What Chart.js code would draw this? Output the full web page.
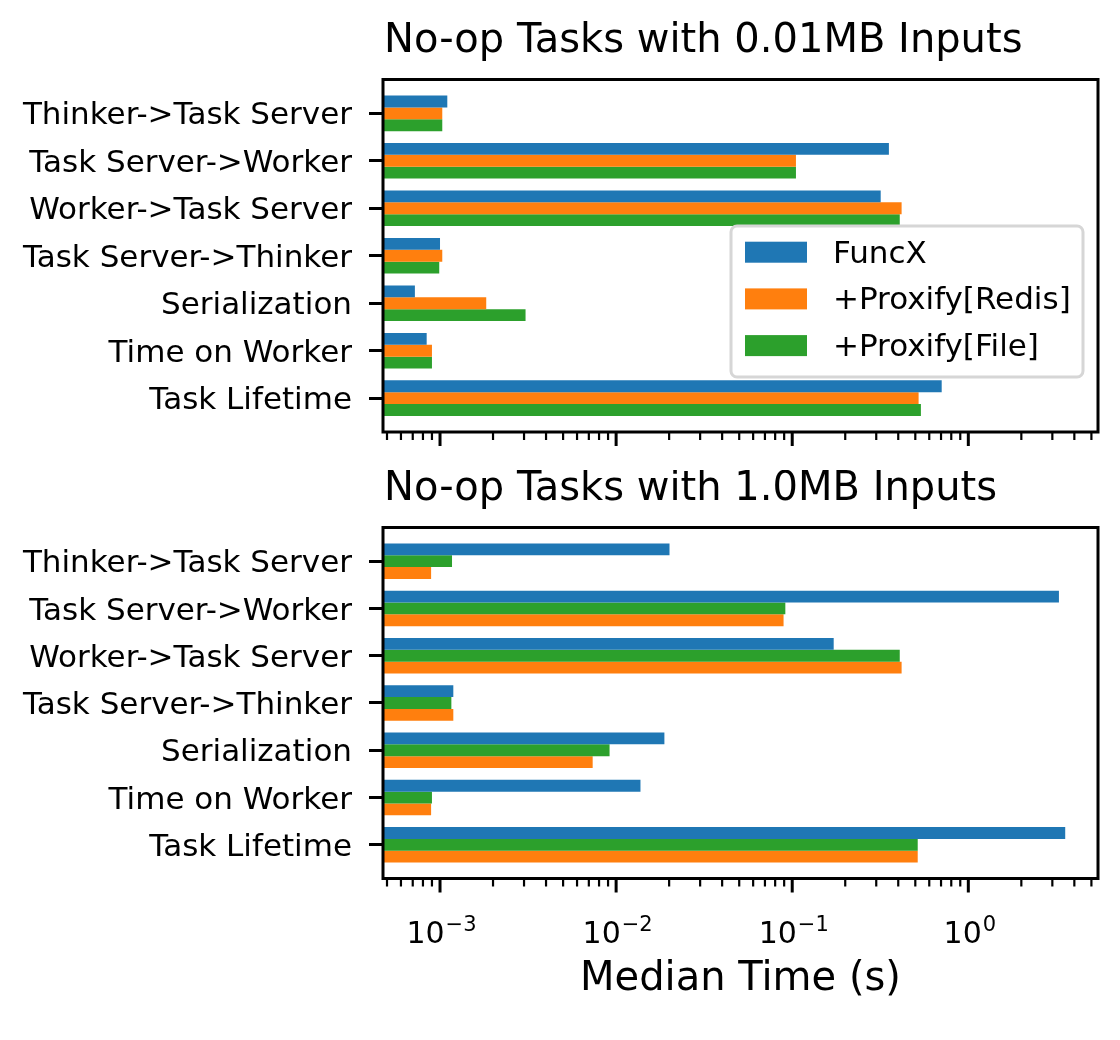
<!DOCTYPE html>
<html><head><meta charset="utf-8">
<script src="https://cdn.jsdelivr.net/npm/chart.js@4.4.1/dist/chart.umd.min.js"></script>
<style>
html,body{margin:0;padding:0;background:#fff;}
#wrap{position:relative;width:1120px;height:1040px;background:#fff;overflow:hidden;}
canvas{position:absolute;left:0;}
#c1{top:0;width:1120px;height:470px;}
#c2{top:470px;width:1120px;height:570px;}
</style></head><body>
<div id="wrap">
<canvas id="c1" width="1120" height="470"></canvas>
<canvas id="c2" width="1120" height="570"></canvas>
</div>
<script>
// ---------- data ----------
const categories = ['Thinker->Task Server','Task Server->Worker','Worker->Task Server','Task Server->Thinker','Serialization','Time on Worker','Task Lifetime'];
const seriesNames = ['FuncX','+Proxify[Redis]','+Proxify[File]'];
const seriesColors = ['#1f77b4','#ff7f0e','#2ca02c'];

// 0.01MB inputs (median seconds)
const smallFuncX = [1.10e-3, 0.354, 0.318, 1.00e-3, 7.2e-4, 8.4e-4, 0.706];
const smallRedis = [1.03e-3, 0.105, 0.418, 1.03e-3, 1.83e-3, 9.0e-4, 0.522];
const smallFile  = [1.03e-3, 0.105, 0.408, 0.99e-3, 3.06e-3, 9.0e-4, 0.538];

// 1.0MB inputs (median seconds)
const largeFuncX = [0.0201, 3.27, 0.172, 1.19e-3, 0.0188, 0.01375, 3.55];
const largeRedis = [8.9e-4, 0.0893, 0.418, 1.19e-3, 7.36e-3, 8.9e-4, 0.516];
const largeFile  = [1.17e-3, 0.0914, 0.408, 1.16e-3, 9.18e-3, 9.0e-4, 0.516];

const titles = ['No-op Tasks with 0.01MB Inputs','No-op Tasks with 1.0MB Inputs'];
const xAxisTitle = 'Median Time (s)';
const xTickValues = [1e-3, 1e-2, 1e-1, 1];
const xTickBase = ['10','10','10','10'];
const xTickExp = ['\u22123','\u22122','\u22121','0'];
const xMin = 4.745e-4, xMax = 5.45;

// ---------- helpers ----------
const FONT = '"DejaVu Sans", sans-serif';
Chart.defaults.font.family = FONT;
Chart.defaults.color = '#000';

function toPoints(arr){ return arr.map((v,i)=>({x:v, y:i})); }
function ds(name, arr){
  const i = seriesNames.indexOf(name);
  return {label:name, data:toPoints(arr), backgroundColor:seriesColors[i], borderWidth:0,
          categoryPercentage:0.75, barPercentage:1.0};
}

const decor = {
  id:'decor',
  afterDraw(chart, args, o){
    const ctx = chart.ctx, a = chart.chartArea, xs = chart.scales.x;
    ctx.save();
    // frame
    ctx.strokeStyle = '#000'; ctx.lineWidth = 3;
    ctx.strokeRect(a.left, a.top, a.right - a.left, a.bottom - a.top);
    // x tick marks (log major/minor)
    for (let e = -4; e <= 1; e++){
      for (let k = 1; k <= 9; k++){
        const v = k * Math.pow(10, e);
        if (v < xs.min || v > xs.max) continue;
        const px = xs.getPixelForValue(v);
        ctx.lineWidth = (k === 1) ? 3 : 2.2;
        ctx.beginPath();
        ctx.moveTo(px, a.bottom);
        ctx.lineTo(px, a.bottom + ((k === 1) ? 14 : 8));
        ctx.stroke();
      }
    }
    // title
    ctx.fillStyle = '#000';
    ctx.textAlign = 'left'; ctx.textBaseline = 'alphabetic';
    ctx.font = '40px ' + FONT;
    ctx.fillText(o.title, a.left + 1, a.top - 27.5);

    if (o.xLabels){
      for (let i = 0; i < xTickValues.length; i++){
        const px = xs.getPixelForValue(xTickValues[i]);
        ctx.font = '30px ' + FONT;
        const wb = ctx.measureText(xTickBase[i]).width;
        ctx.font = '21px ' + FONT;
        const we = ctx.measureText(xTickExp[i]).width;
        const x0 = px - (wb + we) / 2 + 1;
        ctx.font = '30px ' + FONT;
        ctx.fillText(xTickBase[i], x0, a.bottom + 64);
        ctx.font = '21px ' + FONT;
        ctx.fillText(xTickExp[i], x0 + wb + 1, a.bottom + 52.5);
      }
      ctx.textAlign = 'center';
      ctx.font = '40px ' + FONT;
      ctx.fillText(o.xTitle, (a.left + a.right) / 2, a.bottom + 111);
    }

    if (o.legend){
      const L = 731, T = 226, R = 1083, B = 377;
      ctx.beginPath();
      ctx.roundRect(L, T, R - L, B - T, 6);
      ctx.fillStyle = 'rgba(255,255,255,0.8)';
      ctx.fill();
      ctx.lineWidth = 3; ctx.strokeStyle = '#d6d6d6';
      ctx.stroke();
      ctx.textAlign = 'left'; ctx.textBaseline = 'alphabetic';
      ctx.font = '31px ' + FONT;
      chart.data.datasets.forEach((d, i) => {
        const y = 241.7 + i * 46.7;
        ctx.fillStyle = d.backgroundColor;
        ctx.fillRect(745, y, 62, 21);
        ctx.fillStyle = '#000';
        ctx.fillText(d.label, 833, y + 21);
      });
    }
    ctx.restore();
  }
};

function makeChart(id, datasets, canvasH, areaTop, areaBottom, o){
  return new Chart(document.getElementById(id), {
    type:'bar',
    data:{ datasets },
    options:{
      indexAxis:'y',
      responsive:false,
      animation:false,
      devicePixelRatio:1,
      layout:{ padding:{ left:0, right:22, top:areaTop, bottom:0 } },
      plugins:{ legend:{display:false}, tooltip:{enabled:false}, title:{display:false}, decor:o },
      scales:{
        x:{
          type:'logarithmic', min:xMin, max:xMax, position:'bottom',
          grid:{display:false}, border:{display:false}, ticks:{display:false},
          afterFit:(s)=>{ s.height = canvasH - areaBottom; }
        },
        y:{
          type:'linear', min:-0.7125, max:6.7125, reverse:true, position:'left',
          offset:false,
          afterBuildTicks:(s)=>{ s.ticks = categories.map((c,i)=>({value:i})); },
          afterFit:(s)=>{ s.width = 383; },
          border:{display:false},
          grid:{display:true, offset:false, drawOnChartArea:false, drawTicks:true, tickLength:14, tickWidth:3, tickColor:'#000', color:'#000'},
          ticks:{ autoSkip:false, padding:17, labelOffset:3, color:'#000', font:{size:31, family:FONT},
                  callback:(v)=>categories[v] }
        }
      }
    },
    plugins:[decor]
  });
}

makeChart('c1', [ds('FuncX', smallFuncX), ds('+Proxify[Redis]', smallRedis), ds('+Proxify[File]', smallFile)],
          470, 79.5, 432, {title:titles[0], legend:true, xLabels:false});
makeChart('c2', [ds('FuncX', largeFuncX), ds('+Proxify[File]', largeFile), ds('+Proxify[Redis]', largeRedis)],
          570, 57.5, 408.5, {title:titles[1], legend:false, xLabels:true, xTitle:xAxisTitle});
</script>
</body></html>
